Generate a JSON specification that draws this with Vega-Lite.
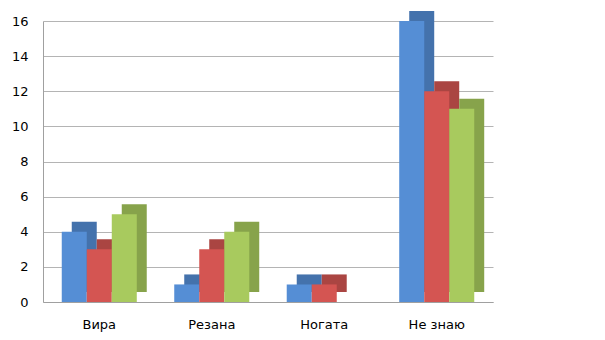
{
  "$schema": "https://vega.github.io/schema/vega-lite/v6.json",
  "autosize": {"type": "none"},
  "width": 450,
  "height": 281,
  "padding": {"left": 43, "top": 21, "right": 112, "bottom": 38},
  "background": "white",
  "config": {
    "view": {"stroke": null},
    "font": "DejaVu Sans",
    "axis": {"labelFont": "DejaVu Sans", "labelFontSize": 13, "labelColor": "#000000"},
    "legend": {"labelFont": "DejaVu Sans", "labelFontSize": 13, "labelColor": "#000000"}
  },
  "data": {
    "values": [
      {"cat": "Вира", "group": "2 клас", "value": 4},
      {"cat": "Вира", "group": "3 класс", "value": 3},
      {"cat": "Вира", "group": "4 класс", "value": 5},
      {"cat": "Резана", "group": "2 клас", "value": 1},
      {"cat": "Резана", "group": "3 класс", "value": 3},
      {"cat": "Резана", "group": "4 класс", "value": 4},
      {"cat": "Ногата", "group": "2 клас", "value": 1},
      {"cat": "Ногата", "group": "3 класс", "value": 1},
      {"cat": "Ногата", "group": "4 класс", "value": 0},
      {"cat": "Не знаю", "group": "2 клас", "value": 16},
      {"cat": "Не знаю", "group": "3 класс", "value": 12},
      {"cat": "Не знаю", "group": "4 класс", "value": 11}
    ]
  },
  "encoding": {
    "x": {
      "field": "cat",
      "type": "nominal",
      "sort": ["Вира", "Резана", "Ногата", "Не знаю"],
      "scale": {"paddingInner": 0.333, "paddingOuter": 0.1667},
      "axis": {"title": null, "labelAngle": 0, "ticks": false, "labelPadding": 16, "domainColor": "#a0a0a0"}
    },
    "y": {
      "field": "value",
      "type": "quantitative",
      "scale": {"domain": [0, 16]},
      "axis": {"title": null, "values": [0, 2, 4, 6, 8, 10, 12, 14, 16], "labelOverlap": false, "ticks": false, "labelPadding": 15, "domainColor": "#a0a0a0", "gridColor": "#b4b4b4", "grid": true}
    }
  },
  "layer": [
    {
      "mark": {"type": "bar", "stroke": null, "yOffset": -10},
      "encoding": {
        "xOffset": {
          "field": "group",
          "type": "nominal",
          "scale": {"paddingInner": 0, "paddingOuter": 0, "range": [10, 85]}
        },
        "color": {
          "field": "group",
          "type": "nominal",
          "scale": {"domain": ["2 клас", "3 класс", "4 класс"], "range": ["#4472AC", "#AA4542", "#87A34B"]},
          "legend": null
        }
      }
    },
    {
      "mark": {"type": "bar", "stroke": null},
      "encoding": {
        "xOffset": {
          "field": "group",
          "type": "nominal",
          "scale": {"paddingInner": 0, "paddingOuter": 0}
        },
        "fill": {
          "field": "group",
          "type": "nominal",
          "scale": {"domain": ["2 клас", "3 класс", "4 класс"], "range": ["#558ED5", "#D45552", "#A8CA5E"]},
          "legend": {"title": null, "orient": "none", "legendX": 487, "legendY": 123, "symbolType": "square", "symbolSize": 80, "symbolStrokeWidth": 0, "rowPadding": 4, "labelOffset": 3}
        }
      }
    }
  ],
  "resolve": {"scale": {"xOffset": "independent"}}
}
